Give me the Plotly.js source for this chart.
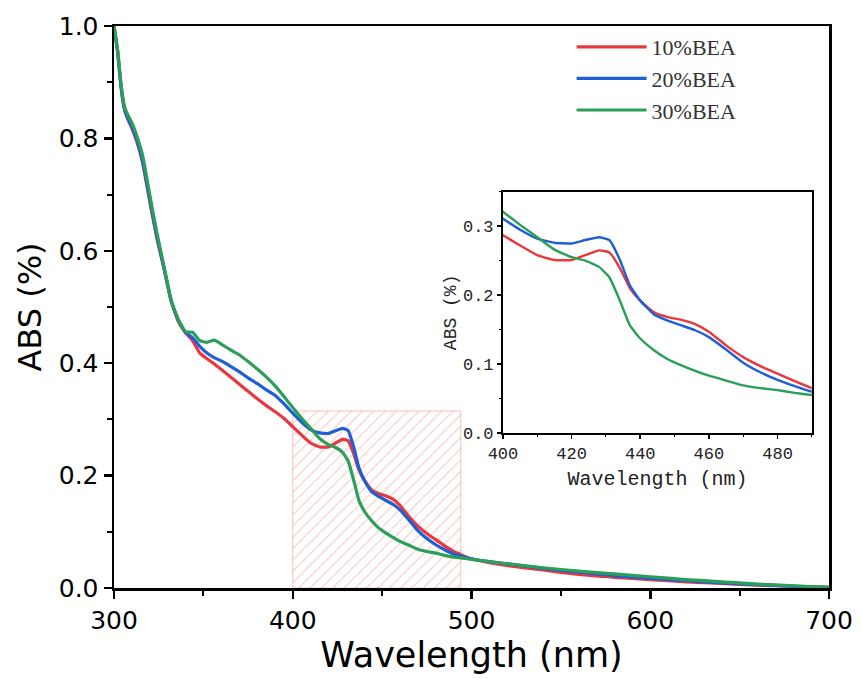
<!DOCTYPE html>
<html>
<head>
<meta charset="utf-8">
<script src="https://cdn.plot.ly/plotly-3.0.1.min.js"></script>
<style>html,body{margin:0;padding:0;background:#fff;}#chart{width:861px;height:679px;}</style>
</head>
<body>
<div id="chart"></div>
<script>
// Wavelength (nm)
const wavelength = [300, 302, 304, 306, 308, 310, 313, 316, 320, 324, 328, 332, 336, 340,
  344, 348, 352, 356, 360, 365, 370, 375, 380, 385, 390, 395, 400,
  405, 410, 415, 420, 424, 428, 431, 434, 437, 440, 444, 448, 452, 456, 460,
  465, 470, 475, 480, 485, 490, 495, 500, 510, 520, 540, 560, 580, 600, 620, 640, 660, 680, 700];

const bea10 = [1.0, 0.955, 0.89, 0.85, 0.832, 0.818, 0.792, 0.757, 0.688, 0.622, 0.568, 0.51, 0.474, 0.454,
  0.44, 0.418, 0.408, 0.399, 0.389, 0.376, 0.363, 0.35, 0.337, 0.325, 0.314, 0.302, 0.287,
  0.272, 0.258, 0.251, 0.251, 0.258, 0.265, 0.262, 0.24, 0.21, 0.192, 0.175, 0.168, 0.164, 0.158, 0.147,
  0.127, 0.11, 0.097, 0.086, 0.075, 0.065, 0.058, 0.052, 0.045, 0.04, 0.032, 0.024, 0.019, 0.015, 0.011, 0.008, 0.005, 0.003, 0.001];

const bea20 = [1.0, 0.955, 0.89, 0.85, 0.834, 0.821, 0.795, 0.76, 0.692, 0.625, 0.569, 0.511, 0.476, 0.455,
  0.445, 0.43, 0.418, 0.41, 0.404, 0.395, 0.385, 0.374, 0.364, 0.353, 0.343, 0.328, 0.311,
  0.295, 0.282, 0.276, 0.275, 0.28, 0.284, 0.28, 0.252, 0.214, 0.192, 0.172, 0.163, 0.156, 0.149, 0.139,
  0.121, 0.102, 0.088, 0.077, 0.068, 0.06, 0.056, 0.052, 0.047, 0.043, 0.035, 0.028, 0.022, 0.017, 0.013, 0.009, 0.006, 0.003, 0.001];

const bea30 = [1.0, 0.958, 0.895, 0.855, 0.84, 0.828, 0.802, 0.77, 0.7, 0.632, 0.572, 0.512, 0.478, 0.456,
  0.455, 0.44, 0.437, 0.441, 0.434, 0.424, 0.415, 0.403, 0.39, 0.376, 0.36, 0.341, 0.321,
  0.302, 0.284, 0.266, 0.255, 0.25, 0.241, 0.226, 0.193, 0.156, 0.137, 0.12, 0.107, 0.098, 0.09, 0.083,
  0.076, 0.069, 0.065, 0.062, 0.058, 0.055, 0.053, 0.051, 0.047, 0.043, 0.036, 0.03, 0.025, 0.02, 0.015, 0.011, 0.007, 0.004, 0.001];

const seriesNames = ['10%BEA', '20%BEA', '30%BEA'];
const seriesColors = ['#e8383d', '#1f5fd6', '#2a9f5a'];

// highlighted zoom region
const zoomX = [400, 494];
const zoomY = [0, 0.315];

const seriesData = [bea10, bea20, bea30];
const traces = [];

traces.push({
  x: [zoomX[0], zoomX[1], zoomX[1], zoomX[0], zoomX[0]],
  y: [zoomY[0], zoomY[0], zoomY[1], zoomY[1], zoomY[0]],
  mode: 'lines', fill: 'toself', showlegend: false, hoverinfo: 'skip',
  line: {color: 'rgba(240,120,120,0.45)', width: 1},
  fillcolor: 'rgba(0,0,0,0)',
  fillpattern: {shape: '/', fgcolor: 'rgba(240,120,120,0.45)', bgcolor: 'rgba(255,255,255,0)', size: 8, solidity: 0.12},
  xaxis: 'x', yaxis: 'y'
});

seriesData.forEach((ys, i) => {
  traces.push({
    x: wavelength, y: ys, name: seriesNames[i], mode: 'lines',
    line: {color: seriesColors[i], width: 3.2, shape: 'spline', smoothing: 0.4},
    xaxis: 'x', yaxis: 'y'
  });
});
seriesData.forEach((ys, i) => {
  traces.push({
    x: wavelength, y: ys, name: seriesNames[i], mode: 'lines', showlegend: false,
    line: {color: seriesColors[i], width: 2.4, shape: 'spline', smoothing: 0.4},
    xaxis: 'x2', yaxis: 'y2'
  });
});

const mainFont = 'DejaVu Sans, sans-serif';
const insetFont = 'Liberation Mono, monospace';

const layout = {
  width: 861, height: 679,
  margin: {l: 114, r: 32, t: 26, b: 91},
  paper_bgcolor: '#ffffff', plot_bgcolor: '#ffffff',
  showlegend: true,
  legend: {x: 0.640, y: 1.0, xanchor: 'left', yanchor: 'top', bgcolor: 'rgba(0,0,0,0)',
    font: {family: 'Liberation Serif, serif', size: 22, color: '#333'}, itemwidth: 70, tracegroupgap: 0},
  xaxis: {
    domain: [0, 1], range: [300, 700], dtick: 100, tick0: 300,
    showgrid: false, zeroline: false,
    showline: true, linecolor: '#000', linewidth: 2.5, mirror: true,
    ticks: 'outside', ticklen: 8, tickwidth: 2.5, tickcolor: '#000',
    minor: {dtick: 50, ticks: 'outside', ticklen: 5, tickwidth: 2, tickcolor: '#000'},
    tickfont: {family: mainFont, size: 25, color: '#000'},
    title: {text: 'Wavelength (nm)', font: {family: mainFont, size: 35, color: '#000'}, standoff: 2}
  },
  yaxis: {
    domain: [0, 1], range: [0, 1.0], dtick: 0.2, tickformat: '.1f',
    showgrid: false, zeroline: false,
    showline: true, linecolor: '#000', linewidth: 2.5, mirror: true,
    ticks: 'outside', ticklen: 8, tickwidth: 2.5, tickcolor: '#000',
    minor: {dtick: 0.1, ticks: 'outside', ticklen: 5, tickwidth: 2, tickcolor: '#000'},
    tickfont: {family: mainFont, size: 25, color: '#000'},
    title: {text: 'ABS (%)', font: {family: mainFont, size: 32, color: '#000'}, standoff: 8}
  },
  xaxis2: {
    domain: [0.544, 0.976], anchor: 'y2', range: [400, 490], dtick: 20, tick0: 400,
    showgrid: false, zeroline: false,
    showline: true, linecolor: '#000', linewidth: 2, mirror: true,
    ticks: 'outside', ticklen: 4, tickwidth: 1.5, tickcolor: '#000',
    minor: {dtick: 10, ticks: 'outside', ticklen: 2, tickwidth: 1, tickcolor: '#000'},
    tickfont: {family: insetFont, size: 17, color: '#222'},
    title: {text: 'Wavelength (nm)', font: {family: insetFont, size: 20, color: '#222'}, standoff: 8}
  },
  yaxis2: {
    domain: [0.276, 0.705], anchor: 'x2', range: [0, 0.35], dtick: 0.1, tickformat: '.1f',
    showgrid: false, zeroline: false,
    showline: true, linecolor: '#000', linewidth: 2, mirror: true,
    ticks: 'outside', ticklen: 4, tickwidth: 1.5, tickcolor: '#000',
    minor: {dtick: 0.05, ticks: 'outside', ticklen: 2, tickwidth: 1, tickcolor: '#000'},
    tickfont: {family: insetFont, size: 17, color: '#222'},
    title: {text: 'ABS (%)', font: {family: insetFont, size: 18, color: '#222'}, standoff: 2}
  }
};

Plotly.newPlot('chart', traces, layout, {displayModeBar: false, staticPlot: true});
</script>
</body>
</html>
